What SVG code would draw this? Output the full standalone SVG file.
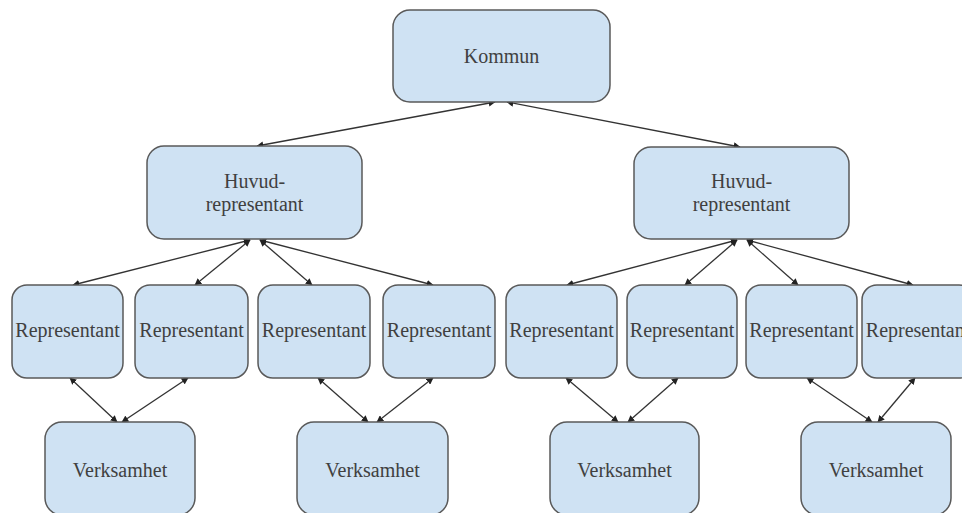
<svg xmlns="http://www.w3.org/2000/svg" width="962" height="513" viewBox="0 0 962 513">
<defs>
<style>
.box{fill:#cfe2f3;stroke:#595959;stroke-width:1.5}
.t{font-family:"Liberation Serif","Times New Roman",serif;font-size:20px;fill:#404040;text-anchor:middle;dominant-baseline:central}
.c{stroke:#333;stroke-width:1.3;fill:none;marker-start:url(#ah);marker-end:url(#ah)}
</style>
<marker id="ah" viewBox="0 0 10 10" refX="9" refY="5" markerWidth="7" markerHeight="7" markerUnits="userSpaceOnUse" orient="auto-start-reverse">
<path d="M0,0 L10,5 L0,10 z" fill="#222"/>
</marker>
</defs>
<rect width="962" height="513" fill="#fff"/>
<g id="connectors">
<line class="c" x1="495" y1="102" x2="257" y2="146"/>
<line class="c" x1="507" y1="102" x2="740" y2="147"/>
<line class="c" x1="250" y1="240" x2="73" y2="285"/>
<line class="c" x1="250" y1="240" x2="195" y2="285"/>
<line class="c" x1="260" y1="240" x2="312" y2="285"/>
<line class="c" x1="260" y1="240" x2="433" y2="285"/>
<line class="c" x1="737" y1="240" x2="567" y2="285"/>
<line class="c" x1="737" y1="240" x2="685" y2="285"/>
<line class="c" x1="747" y1="240" x2="798" y2="285"/>
<line class="c" x1="747" y1="240" x2="913" y2="285"/>
<line class="c" x1="70" y1="378" x2="117" y2="422"/>
<line class="c" x1="188" y1="378" x2="122" y2="422"/>
<line class="c" x1="318" y1="378" x2="368" y2="422"/>
<line class="c" x1="433" y1="378" x2="377" y2="422"/>
<line class="c" x1="566" y1="378" x2="618" y2="422"/>
<line class="c" x1="678" y1="378" x2="628" y2="422"/>
<line class="c" x1="807" y1="378" x2="872" y2="422"/>
<line class="c" x1="915" y1="378" x2="878" y2="422"/>
</g>
<g id="kommun"><rect class="box" x="393" y="10" width="217" height="92" rx="17"/><text class="t" x="501.5" y="56">Kommun</text></g>
<g id="huvud1"><rect class="box" x="147" y="146" width="215" height="93" rx="17"/><text class="t" x="254.5" y="181">Huvud-</text><text class="t" x="254.5" y="204">representant</text></g>
<g id="huvud2"><rect class="box" x="634" y="147" width="215" height="92" rx="17"/><text class="t" x="741.5" y="181">Huvud-</text><text class="t" x="741.5" y="204">representant</text></g>
<g id="rep1"><rect class="box" x="12" y="285" width="111" height="93" rx="15"/><text class="t" x="67.5" y="330">Representant</text></g>
<g id="rep2"><rect class="box" x="135" y="285" width="113" height="93" rx="15"/><text class="t" x="191.5" y="330">Representant</text></g>
<g id="rep3"><rect class="box" x="258" y="285" width="112" height="93" rx="15"/><text class="t" x="314" y="330">Representant</text></g>
<g id="rep4"><rect class="box" x="383" y="285" width="112" height="93" rx="15"/><text class="t" x="439" y="330">Representant</text></g>
<g id="rep5"><rect class="box" x="506" y="285" width="111" height="93" rx="15"/><text class="t" x="561.5" y="330">Representant</text></g>
<g id="rep6"><rect class="box" x="627" y="285" width="110" height="93" rx="15"/><text class="t" x="682" y="330">Representant</text></g>
<g id="rep7"><rect class="box" x="746" y="285" width="111" height="93" rx="15"/><text class="t" x="801.5" y="330">Representant</text></g>
<g id="rep8"><rect class="box" x="862" y="285" width="112" height="93" rx="15"/><text class="t" x="918" y="330">Representant</text></g>
<g id="verk1"><rect class="box" x="45" y="422" width="150" height="93" rx="17"/><text class="t" x="120" y="470">Verksamhet</text></g>
<g id="verk2"><rect class="box" x="297" y="422" width="151" height="93" rx="17"/><text class="t" x="372.5" y="470">Verksamhet</text></g>
<g id="verk3"><rect class="box" x="550" y="422" width="149" height="93" rx="17"/><text class="t" x="624.5" y="470">Verksamhet</text></g>
<g id="verk4"><rect class="box" x="801" y="422" width="150" height="93" rx="17"/><text class="t" x="876" y="470">Verksamhet</text></g>
</svg>
